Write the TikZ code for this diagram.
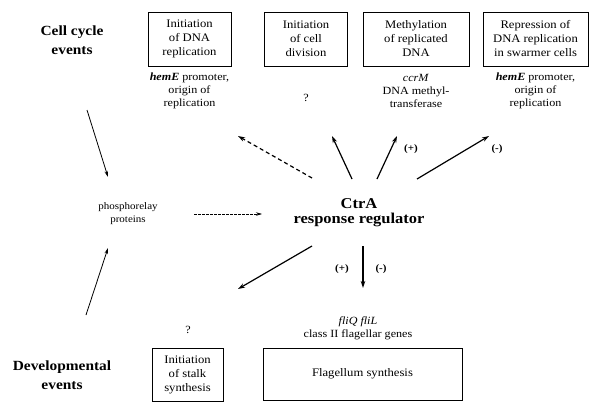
\documentclass[tikz,border=0pt]{standalone}
\usepackage{fontspec}
\setmainfont[FakeStretch=1.1]{Liberation Serif}
\usetikzlibrary{arrows.meta}
\begin{document}
\begin{tikzpicture}[x=1pt,y=-1pt,
  box/.style={draw,line width=1pt,align=center,inner sep=1pt,font=\fontsize{11.5}{14}\selectfont},
  note/.style={align=center,inner sep=0pt,font=\fontsize{11}{13}\selectfont},
  head/.style={align=center,font=\fontsize{14}{19}\selectfont\bfseries},
  sign/.style={font=\fontsize{10}{12}\selectfont\bfseries},
  arr/.style={-{Stealth[length=7pt,width=4.5pt]},line width=1.2pt},
  thinarr/.style={-{Stealth[length=6pt,width=3.5pt]},line width=0.8pt}]
  \useasboundingbox (0,0) rectangle (591,405);

  % cell cycle events
  \node[head] (cell) at (72,40) {Cell cycle\\events};
  \node[box,minimum width=83pt,minimum height=54pt] (dnarep) at (189.5,39) {Initiation\\of DNA\\replication};
  \node[box,minimum width=83pt,minimum height=54pt] (celldiv) at (306,39) {Initiation\\of cell\\division};
  \node[box,minimum width=106pt,minimum height=54pt] (methyl) at (416,39) {Methylation\\of replicated\\DNA};
  \node[box,minimum width=105pt,minimum height=54pt] (repress) at (535.5,39) {Repression of\\DNA replication\\in swarmer cells};

  \node[note] (hem1) at (189.5,91) {\textbf{\textit{hemE}} promoter,\\origin of\\replication};
  \node[note] (q1) at (306,98) {?};
  \node[note] (ccrm) at (416,91) {\textit{ccrM}\\DNA methyl-\\transferase};
  \node[note] (hem2) at (535.5,91) {\textbf{\textit{hemE}} promoter,\\origin of\\replication};

  % middle
  \node[align=center,font=\fontsize{10}{13}\selectfont] (phos) at (128,214) {phosphorelay\\proteins};
  \node[align=center,font=\fontsize{15}{15}\selectfont\bfseries] (ctra) at (359,213) {CtrA\\response regulator};

  % developmental events
  \node[note] (q2) at (188,330) {?};
  \node[note] (fli) at (358,328) {\textit{fliQ fliL}\\class II flagellar genes};
  \node[box,minimum width=71pt,minimum height=53pt] (stalk) at (187.5,374.5) {Initiation\\of stalk\\synthesis};
  \node[box,minimum width=199pt,minimum height=52pt] (flag) at (362.5,374) {Flagellum synthesis};
  \node[head] (dev) at (62,375) {Developmental\\events};

  \coordinate (c1) at (87,110);  \coordinate (p1) at (108,177);
  \coordinate (c2) at (86,315);  \coordinate (p2) at (108,248);
  \coordinate (p3) at (194,214); \coordinate (r0) at (262,214);
  \coordinate (r1) at (312,178); \coordinate (t1) at (238,136);
  \coordinate (r2) at (352,179); \coordinate (t2) at (332,136);
  \coordinate (r3) at (377,179); \coordinate (t3) at (397,136);
  \coordinate (r4) at (417,179); \coordinate (t4) at (489,136);
  \coordinate (r5) at (312,246); \coordinate (t5) at (238,289);
  \coordinate (r6) at (363,246); \coordinate (t6) at (363,288);

  \draw[thinarr] (c1) -- (p1);
  \draw[thinarr] (c2) -- (p2);
  \draw[thinarr,line width=0.6pt,dash pattern=on 2.5pt off 1.5pt] (p3) -- (r0);
  \draw[arr,dash pattern=on 4pt off 3pt] (r1) -- (t1);
  \draw[arr] (r2) -- (t2);
  \draw[arr] (r3) -- (t3);
  \draw[arr] (r4) -- (t4);
  \draw[arr] (r5) -- (t5);
  \draw[arr] (r6) -- (t6);

  \node[sign] (plus1) at (411,149) {(+)};
  \node[sign] (minus1) at (497,149) {(-)};
  \node[sign] (plus2) at (342,269) {(+)};
  \node[sign] (minus2) at (381,269) {(-)};
\end{tikzpicture}
\end{document}
